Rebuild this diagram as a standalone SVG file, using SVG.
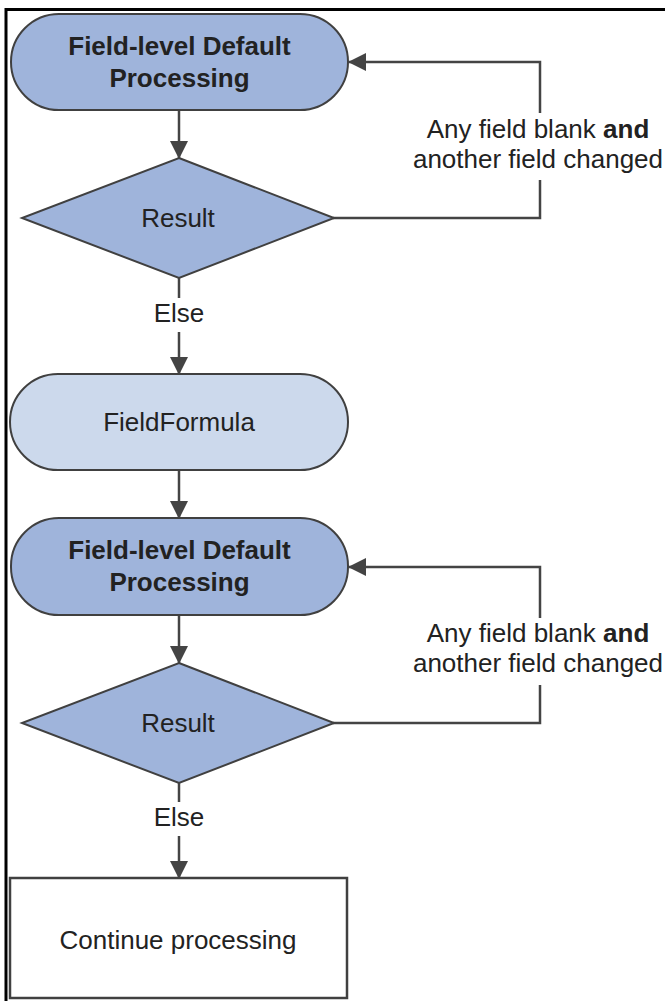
<svg xmlns="http://www.w3.org/2000/svg" width="665" height="1001" viewBox="0 0 665 1001">
<style>
  .t{font-family:"Liberation Sans",Arial,sans-serif;font-size:26px;fill:#222;text-anchor:middle}
  .b{font-weight:bold}
  .pill{fill:#9fb4db;stroke:#404040;stroke-width:2}
  .pill2{fill:#ccd9ec;stroke:#404040;stroke-width:2}
  .dia{fill:#9fb4db;stroke:#404040;stroke-width:2}
  .box{fill:#fff;stroke:#404040;stroke-width:2.5}
  .c{fill:none;stroke:#444;stroke-width:2.5}
</style>
<defs>
  <marker id="ah" viewBox="0 0 18 18" refX="17" refY="9" markerWidth="18" markerHeight="18" markerUnits="userSpaceOnUse" orient="auto">
    <path d="M0,0 L18,9 L0,18 z" fill="#444"/>
  </marker>
</defs>
<rect width="665" height="1001" fill="#fff"/>
<path d="M6 1001 V9.5 H665" fill="none" stroke="#000" stroke-width="3"/>

<g id="connectors">
  <line class="c" x1="179" y1="110" x2="179" y2="158" marker-end="url(#ah)"/>
  <line class="c" x1="179" y1="278" x2="179" y2="298"/>
  <line class="c" x1="179" y1="332" x2="179" y2="374" marker-end="url(#ah)"/>
  <line class="c" x1="179" y1="470" x2="179" y2="518" marker-end="url(#ah)"/>
  <line class="c" x1="179" y1="615" x2="179" y2="663" marker-end="url(#ah)"/>
  <line class="c" x1="179" y1="783" x2="179" y2="802"/>
  <line class="c" x1="179" y1="836" x2="179" y2="878" marker-end="url(#ah)"/>
  <polyline class="c" points="333,218 540,218 540,180"/>
  <polyline class="c" points="540,113 540,62 349,62" marker-end="url(#ah)"/>
  <polyline class="c" points="333,723 540,723 540,685"/>
  <polyline class="c" points="540,618 540,567 349,567" marker-end="url(#ah)"/>
  <text class="t" x="179" y="322">Else</text>
  <text class="t" x="179" y="826">Else</text>
  <text class="t" x="538" y="138">Any field blank <tspan class="b">and</tspan></text>
  <text class="t" x="538" y="168">another field changed</text>
  <text class="t" x="538" y="642">Any field blank <tspan class="b">and</tspan></text>
  <text class="t" x="538" y="672">another field changed</text>
</g>

<g id="default1">
  <rect class="pill" x="11" y="14" width="337" height="96" rx="48" ry="48"/>
  <text class="t b" x="179.5" y="55">Field-level Default</text>
  <text class="t b" x="179.5" y="87">Processing</text>
</g>
<g id="result1">
  <polygon class="dia" points="179,158 334,218 179,278 22,218"/>
  <text class="t" x="178" y="227">Result</text>
</g>
<g id="fieldformula">
  <rect class="pill2" x="10" y="374" width="338" height="96" rx="48" ry="48"/>
  <text class="t" x="179" y="431">FieldFormula</text>
</g>
<g id="default2">
  <rect class="pill" x="11" y="518" width="337" height="97" rx="48" ry="48"/>
  <text class="t b" x="179.5" y="559">Field-level Default</text>
  <text class="t b" x="179.5" y="591">Processing</text>
</g>
<g id="result2">
  <polygon class="dia" points="179,663 334,723 179,783 22,723"/>
  <text class="t" x="178" y="732">Result</text>
</g>
<g id="continue">
  <rect class="box" x="10" y="878" width="337" height="120"/>
  <text class="t" x="178" y="949">Continue processing</text>
</g>
</svg>
